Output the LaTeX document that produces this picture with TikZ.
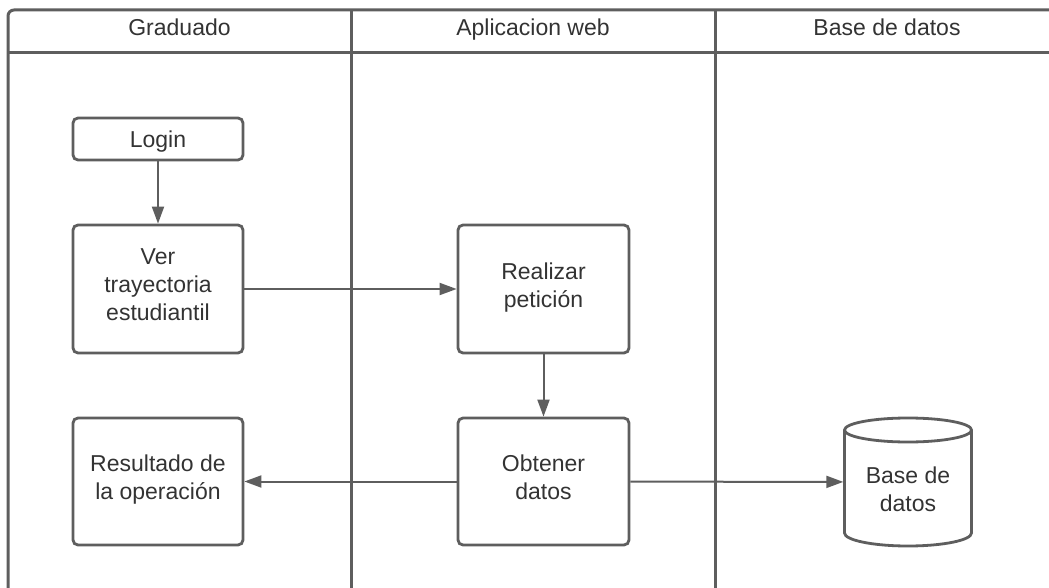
\documentclass[tikz,border=0pt]{standalone}
\usepackage{fontspec}
\setmainfont{Liberation Sans}
\usetikzlibrary{arrows.meta,calc}
\definecolor{ln}{HTML}{5E5E5E}
\definecolor{tx}{HTML}{333333}
\begin{document}
\begin{tikzpicture}[x=1pt,y=-1pt,
  txtfont/.style={font=\fontsize{23}{28}\selectfont},
  box/.style={draw=ln, line width=2.8pt, rounded corners=5pt, fill=white, text=tx,
    align=center, inner sep=0pt, txtfont},
  strutbox/.style={box, execute at begin node=\strut, execute at end node=\strut},
  conn/.style={draw=ln, line width=2pt, -{Triangle[length=17pt,width=12pt]}},
  lane/.style={draw=ln, line width=3pt},
  hdr/.style={text=tx, anchor=base, txtfont},
  cyl/.style={draw=ln, line width=2.8pt, fill=white}]
\useasboundingbox[fill=white] (0,0) rectangle (1049,588);
% swimlanes
\begin{scope}
\clip (0,0) rectangle (1049,588);
\draw[lane, rounded corners=6pt] (8,10) rectangle (1060,594);
\draw[lane] (8,53) -- (1060,53);
\draw[lane] (351,10) -- (351,594);
\draw[lane] (715,10) -- (715,594);
\end{scope}
\node[hdr] (h1) at (179.5,36) {Graduado};
\node[hdr] (h2) at (533,36) {Aplicacion web};
\node[hdr] (h3) at (887,36) {Base de datos};
% process boxes
\node[box, text depth=0pt, minimum width=170pt, minimum height=42pt] (login) at (158,139) {Login};
\node[strutbox, minimum width=170pt, minimum height=128pt] (ver) at (158,289) {Ver\\trayectoria\\estudiantil};
\node[strutbox, minimum width=171pt, minimum height=128pt] (real) at (543.5,289) {Realizar\\petición};
\node[strutbox, minimum width=171pt, minimum height=127pt] (obt) at (543.5,481.5) {Obtener\\datos};
\node[strutbox, minimum width=170pt, minimum height=127pt] (res) at (158,481.5) {Resultado de\\la operación};
% database cylinder
\node[minimum width=129pt, minimum height=130pt, inner sep=0pt] (db) at (908,482) {};
\draw[cyl] ($(db.center)+(-63.5,-52)$) coordinate (c1) -- ++(0,103)
  arc[start angle=180,end angle=0,x radius=63.5,y radius=13] -- ++(0,-103)
  arc[start angle=0,end angle=-180,x radius=63.5,y radius=12] -- cycle;
\draw[cyl, fill=none] (c1) arc[start angle=180,end angle=0,x radius=63.5,y radius=12];
\node[text=tx, align=center, inner sep=0pt, txtfont, execute at begin node=\strut, execute at end node=\strut] (dbt) at (908,493) {Base de\\datos};
% connectors
\draw[conn] (login) -- (ver);
\draw[conn] (ver) -- (real);
\draw[conn] (real) -- (obt);
\draw[conn] (obt) -- (res);
\draw[conn] (obt) -- (db);
\end{tikzpicture}
\end{document}
